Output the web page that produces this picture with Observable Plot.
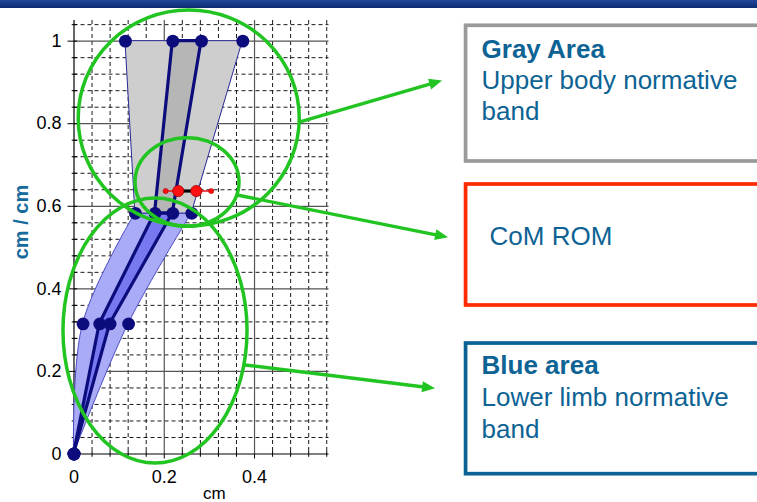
<!DOCTYPE html>
<html><head><meta charset="utf-8">
<script src="https://cdn.jsdelivr.net/npm/d3@7"></script>
<script src="https://cdn.jsdelivr.net/npm/@observablehq/plot@0.6"></script>
<style>
html,body{margin:0;padding:0;background:#fff;overflow:hidden;}
#wrap{position:relative;width:757px;height:502px;overflow:hidden;}
#banner{position:absolute;left:0;top:0;width:757px;height:8px;background:linear-gradient(#24479a,#0b2a70);}
svg{display:block;}
</style></head><body>
<div id="wrap"><div id="chart"></div><div id="banner"></div></div>
<script>
// ---- data (cm / cm vs cm) ----
const levels     = [0, 0.315, 0.583, 1.0];
const outerLeft  = [0, 0.020, 0.136, 0.114];
const innerLeft  = [0, 0.057, 0.1795, 0.219];
const innerRight = [0, 0.080, 0.219, 0.2825];
const outerRight = [0, 0.121, 0.261, 0.374];

// CoM range of motion
const comY = 0.637;
const comMin = 0.203, comMax = 0.304;
const comLow = 0.231, comHigh = 0.271;

// axis ticks
const xTicks = [0, 0.2, 0.4];
const yTicks = [0, 0.2, 0.4, 0.6, 0.8, 1];
const isMajor = v => Math.abs(Math.round(v / 0.2) * 0.2 - v) < 1e-6;
const minorX = d3.range(1, 15).map(i => +(i * 0.04).toFixed(2)).filter(v => !isMajor(v));
const minorY = d3.range(1, 27).map(i => +(i * 0.04).toFixed(2)).filter(v => !isMajor(v));
const majorX = [0.2, 0.4];
const majorY = [0.2, 0.4, 0.6, 0.8, 1];

// annotations (data units)
const ellipses = [
  {cx: 0.2553, cy: 0.8126, rx: 0.2449, ry: 0.2616},
  {cx: 0.2515, cy: 0.6576, rx: 0.1152, ry: 0.1073},
  {cx: 0.1806, cy: 0.2979, rx: 0.2039, ry: 0.3209}
];
const arrows = [
  {x1: 0.4997, y1: 0.8029, x2: 0.8166, y2: 0.9035},
  {x1: 0.3623, y1: 0.6262, x2: 0.8299, y2: 0.5237},
  {x1: 0.3800, y1: 0.2144, x2: 0.8011, y2: 0.1579}
];
const boxes = [
  {x1: 0.8687, x2: 1.60, y1: 1.0372, y2: 0.7085, stroke: "#9a9a9a"},
  {x1: 0.8687, x2: 1.60, y1: 0.6528, y2: 0.3597, stroke: "#ff2a00"},
  {x1: 0.8687, x2: 1.60, y1: 0.2676, y2: -0.0489, stroke: "#0b6294"}
];
const boxTitles = [
  {x: 0.903, y: 0.9597, text: "Gray Area"},
  {x: 0.903, y: 0.1926, text: "Blue area"}
];
const boxLines = [
  {x: 0.903, y: 0.8829, text: "Upper body normative"},
  {x: 0.903, y: 0.8095, text: "band"},
  {x: 0.9208, y: 0.5067, text: "CoM ROM"},
  {x: 0.903, y: 0.1158, text: "Lower limb normative"},
  {x: 0.903, y: 0.0392, text: "band"}
];

const rows = levels.map((y, i) => ({y, ol: outerLeft[i], il: innerLeft[i], ir: innerRight[i], or: outerRight[i]}));
const lower = rows.slice(0, 3);
const upper = rows.slice(2);
const dots = [];
rows.forEach(r => { [r.ol, r.il, r.ir, r.or].forEach(x => dots.push({x, y: r.y})); });
const comLine = [{y: comY, x1: comMin, x2: comMax}];
const comBar = [{y: comY, x1: comLow, x2: comHigh}];
const comSmall = [{x: comMin, y: comY}, {x: comMax, y: comY}];
const comBig = [{x: comLow, y: comY}, {x: comHigh, y: comY}];

const GREEN = "#22c422";
const NAVY = "#0c0c7c";
const TEXTC = "#0d6394";

function annotations(index, scales) {
  const sx = scales.x, sy = scales.y;
  const g = d3.create("svg:g");
  ellipses.forEach(e => {
    g.append("ellipse")
      .attr("cx", sx(e.cx)).attr("cy", sy(e.cy))
      .attr("rx", Math.abs(sx(e.cx + e.rx) - sx(e.cx)))
      .attr("ry", Math.abs(sy(e.cy + e.ry) - sy(e.cy)))
      .attr("fill", "none").attr("stroke", GREEN).attr("stroke-width", 3.5);
  });
  arrows.forEach(a => {
    const X1 = sx(a.x1), Y1 = sy(a.y1), X2 = sx(a.x2), Y2 = sy(a.y2);
    const dx = X2 - X1, dy = Y2 - Y1, L = Math.hypot(dx, dy);
    const ux = dx / L, uy = dy / L, hl = 13, hw = 5.5;
    const bx = X2 - ux * hl, by = Y2 - uy * hl;
    g.append("line").attr("x1", X1).attr("y1", Y1).attr("x2", bx + ux * 2).attr("y2", by + uy * 2)
      .attr("stroke", GREEN).attr("stroke-width", 3.4);
    g.append("polygon")
      .attr("points", `${X2},${Y2} ${bx - uy * hw},${by + ux * hw} ${bx + uy * hw},${by - ux * hw}`)
      .attr("fill", GREEN);
  });
  return g.node();
}

const plot = Plot.plot({
  width: 757,
  height: 502,
  marginLeft: 73.5,
  marginRight: 428.5,
  marginTop: 20,
  marginBottom: 48.5,
  style: {fontFamily: "'Liberation Sans', Arial, sans-serif", fontSize: "18px", background: "transparent", color: "#000"},
  x: {domain: [0, 0.565], ticks: xTicks, tickFormat: d3.format("~g"), tickSize: 5, tickPadding: 11, label: null},
  y: {domain: [0, 1.05], ticks: yTicks, tickFormat: d3.format("~g"), tickSize: 6, tickPadding: 6.5, label: null},
  marks: [
    Plot.ruleX(minorX, {stroke: "#1a1a1a", strokeDasharray: "4,3", strokeWidth: 1}),
    Plot.ruleY(minorY, {stroke: "#1a1a1a", strokeDasharray: "4,3", strokeWidth: 1}),
    Plot.ruleX(majorX, {stroke: "#555", strokeWidth: 1.2}),
    Plot.ruleY(majorY, {stroke: "#555", strokeWidth: 1.2}),
    Plot.ruleX([0], {stroke: "#000", strokeWidth: 1.2}),
    Plot.ruleY([0], {stroke: "#000", strokeWidth: 1.2}),
    Plot.ruleY(minorY, {x1: -0.004, x2: 0.008, stroke: "#000"}),
    Plot.ruleY(majorY, {x1: 0, x2: 0.008, stroke: "#000"}),
    Plot.ruleX(minorX, {y1: -0.008, y2: 0.006, stroke: "#000"}),
    // lower limb (blue) band
    Plot.areaX(lower, {y: "y", x1: "ol", x2: "or", curve: "catmull-rom", fill: "#aaabf6", stroke: "#4a4ac4", strokeWidth: 1}),
    Plot.areaX(lower, {y: "y", x1: "il", x2: "ir", fill: "#7878f0", stroke: NAVY, strokeWidth: 3.2}),
    // upper body (gray) band
    Plot.areaX(upper, {y: "y", x1: "ol", x2: "or", fill: "#cecece", stroke: "#2a2a98", strokeWidth: 1}),
    Plot.areaX(upper, {y: "y", x1: "il", x2: "ir", fill: "#b6b6b6", stroke: NAVY, strokeWidth: 3.2}),
    Plot.dot(dots, {x: "x", y: "y", r: 6.4, fill: NAVY}),
    // CoM ROM
    Plot.ruleY(comLine, {y: "y", x1: "x1", x2: "x2", stroke: "#e81010", strokeWidth: 1.5}),
    Plot.ruleY(comBar, {y: "y", x1: "x1", x2: "x2", stroke: "#000", strokeWidth: 3.2}),
    Plot.dot(comSmall, {x: "x", y: "y", r: 2.6, fill: "#ff1010", stroke: "#a00000", strokeWidth: 0.5}),
    Plot.dot(comBig, {x: "x", y: "y", r: 5.6, fill: "#ff1010", stroke: "#a00000", strokeWidth: 0.8}),
    // annotations
    annotations,
    ...boxes.map(b => Plot.rect([b], {x1: "x1", x2: "x2", y1: "y1", y2: "y2", fill: "none", stroke: b.stroke, strokeWidth: 3.7})),
    Plot.text(boxTitles, {x: "x", y: "y", text: "text", textAnchor: "start", lineAnchor: "bottom", fontSize: 26, fontWeight: "bold", fill: TEXTC}),
    Plot.text(boxLines, {x: "x", y: "y", text: "text", textAnchor: "start", lineAnchor: "bottom", fontSize: 26, fill: TEXTC}),
    // axis titles
    Plot.text([{x: -0.1172, y: 0.5619, text: "cm / cm"}], {x: "x", y: "y", text: "text", rotate: -90, textAnchor: "middle", lineAnchor: "middle", fontSize: 20, fontWeight: "bold", fill: "#176a9c"}),
    Plot.text([{x: 0.3107, y: -0.1078, text: "cm"}], {x: "x", y: "y", text: "text", textAnchor: "middle", lineAnchor: "bottom", fontSize: 17, fill: "#000"})
  ]
});
document.getElementById("chart").appendChild(plot);
</script>
</body></html>
